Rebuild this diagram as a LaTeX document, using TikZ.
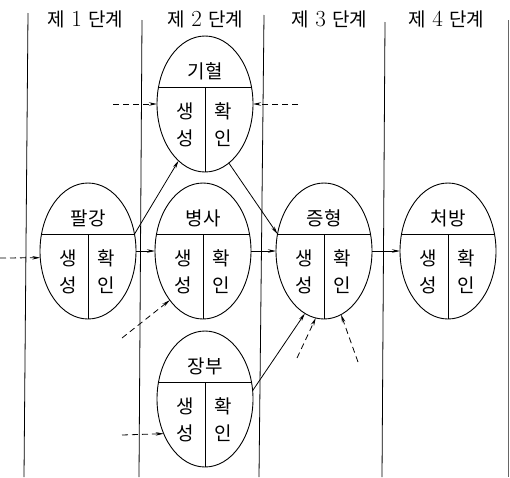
\documentclass[tikz,border=0pt]{standalone}
\usepackage{fontspec}
\newfontfamily\kr{Noto Sans CJK KR}
\usetikzlibrary{shapes.geometric,arrows.meta}
\tikzset{
  stg/.style={ellipse, draw, line width=0.9pt, minimum width=96pt, minimum height=136pt, inner sep=0pt, outer sep=0pt},
  lbl/.style={font=\kr\fontsize{19}{19}\selectfont, inner sep=0pt},
  hdr/.style={font=\fontsize{19}{19}\selectfont, inner sep=0pt},
  sep/.style={line width=0.9pt},
  col/.style={line width=0.8pt},
  arr/.style={-{Stealth[length=8pt,width=3.5pt]}, line width=0.8pt},
  darr/.style={arr, dash pattern=on 6pt off 4pt}
}
\newcommand\stagebox[4]{%
  \node[stg] (#1) at (#2,#3) {};
  \draw[sep] (#1.160) -- (#1.20);
  \draw[sep] (#2,#3-17) -- (#1.south);
  \node[lbl] (#1-t) at (#2,#3-33) {#4};
  \node[lbl] (#1-a) at (#2-20,#3+7) {생};
  \node[lbl] (#1-b) at (#2-20,#3+34) {성};
  \node[lbl] (#1-c) at (#2+18,#3+7) {확};
  \node[lbl] (#1-d) at (#2+18,#3+34) {인};
}
\newcommand\hdrtext[1]{{\kr 제}\hspace{7pt}{\fontsize{23}{23}\selectfont #1}\hspace{6pt}{\kr 단계}}
\begin{document}
\begin{tikzpicture}[x=1pt,y=-1pt]
\useasboundingbox (0,0) rectangle (510,477);
% column lines
\draw[col] (28,13) -- (24,477);
\draw[col] (142,20) -- (139,477);
\draw[col] (264,15) -- (259,477);
\draw[col] (385,22) -- (382,477);
\draw[line width=0.6pt, black!60] (508,20) -- (508,477);
% headers
\node[hdr] (h1) at (85,19) {\hdrtext{1}};
\node[hdr] (h2) at (205,19) {\hdrtext{2}};
\node[hdr] (h3) at (329,19) {\hdrtext{3}};
\node[hdr] (h4) at (446,19) {\hdrtext{4}};
% stages
\stagebox{pg}{88}{251}{팔강}
\stagebox{gh}{205}{104}{기혈}
\stagebox{bs}{203}{251}{병사}
\stagebox{jb}{205}{399}{장부}
\stagebox{jh}{324}{251}{증형}
\stagebox{cb}{448}{251}{처방}
% solid connectors
\draw[arr] (pg.20) -- (gh.245);
\draw[arr] (pg.east) -- (bs.west);
\draw[arr] (gh.292) -- (jh.160);
\draw[arr] (bs.east) -- (jh.west);
\draw[arr] (jh.east) -- (cb.west);
\draw[arr] (jb.10) -- (jh.253);
% dashed inputs
\coordinate (d0) at (0,258);
\coordinate (d1) at (113,104);
\coordinate (d2) at (298,104);
\coordinate (d3) at (122,338);
\coordinate (d4) at (297,358);
\coordinate (d5) at (358,362);
\coordinate (d6) at (122,435);
\draw[darr] (d0) -- (pg.188);
\draw[darr] (d1) -- (gh.west);
\draw[darr] (d2) -- (gh.east);
\draw[darr] (d3) -- (bs.236);
\draw[darr] (d4) -- (jh.263);
\draw[darr] (d5) -- (jh.285);
\draw[darr] (d6) -- (jb.220);
\end{tikzpicture}
\end{document}
